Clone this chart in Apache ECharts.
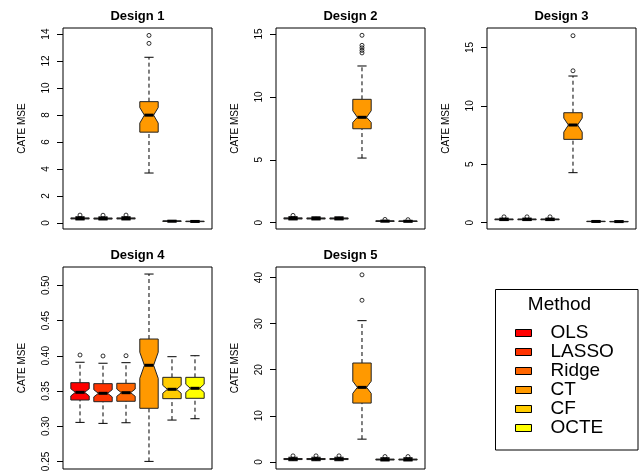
<!DOCTYPE html>
<html><head><meta charset="utf-8">
<script src="https://cdn.jsdelivr.net/npm/echarts@6/dist/echarts.min.js"></script>
<style>html,body{margin:0;padding:0;background:#fff}#c{width:643px;height:475px}</style>
</head><body><div id="c"></div>
<script>
// ---------- data ----------
const methods = ['OLS', 'LASSO', 'Ridge', 'CT', 'CF', 'OCTE'];
const designTitles = ['Design 1', 'Design 2', 'Design 3', 'Design 4', 'Design 5'];
// each row: [whiskerLow, q1, notchLow, median, notchHigh, q3, whiskerHigh]
const design1Stats = [
  [0.22, 0.30, 0.315, 0.33, 0.345, 0.37, 0.46],
  [0.22, 0.29, 0.310, 0.325, 0.340, 0.36, 0.45],
  [0.22, 0.30, 0.315, 0.33, 0.345, 0.37, 0.46],
  [3.70, 6.73, 7.40, 7.99, 8.55, 8.99, 12.28],
  [0.09, 0.115, 0.125, 0.13, 0.135, 0.145, 0.18],
  [0.07, 0.095, 0.105, 0.11, 0.115, 0.125, 0.16]
];
const design2Stats = [
  [0.22, 0.30, 0.32, 0.34, 0.36, 0.38, 0.48],
  [0.22, 0.30, 0.32, 0.335, 0.35, 0.375, 0.47],
  [0.22, 0.30, 0.32, 0.335, 0.35, 0.375, 0.47],
  [5.14, 7.47, 7.97, 8.38, 8.90, 9.81, 12.46],
  [0.08, 0.11, 0.12, 0.125, 0.13, 0.14, 0.18],
  [0.07, 0.10, 0.11, 0.115, 0.12, 0.13, 0.17]
];
const design3Stats = [
  [0.18, 0.25, 0.265, 0.28, 0.295, 0.31, 0.39],
  [0.18, 0.25, 0.265, 0.28, 0.295, 0.31, 0.39],
  [0.18, 0.25, 0.265, 0.28, 0.295, 0.31, 0.39],
  [4.28, 7.13, 7.75, 8.36, 8.95, 9.41, 12.55],
  [0.07, 0.09, 0.10, 0.105, 0.11, 0.12, 0.15],
  [0.06, 0.08, 0.09, 0.095, 0.10, 0.11, 0.14]
];
const design4Stats = [
  [0.3054, 0.3372, 0.3430, 0.3481, 0.3532, 0.3618, 0.3908],
  [0.3040, 0.3348, 0.3416, 0.3467, 0.3518, 0.3604, 0.3894],
  [0.3049, 0.3354, 0.3425, 0.3476, 0.3527, 0.3609, 0.3902],
  [0.2500, 0.3254, 0.3680, 0.3865, 0.4050, 0.4238, 0.5161],
  [0.3087, 0.3391, 0.3468, 0.3524, 0.3580, 0.3694, 0.3987],
  [0.3106, 0.3396, 0.3480, 0.3538, 0.3596, 0.3694, 0.4001]
];
const design5Stats = [
  [0.25, 0.50, 0.55, 0.60, 0.65, 0.72, 1.00],
  [0.25, 0.50, 0.55, 0.60, 0.65, 0.72, 1.00],
  [0.25, 0.50, 0.55, 0.60, 0.65, 0.72, 1.00],
  [4.93, 12.76, 14.87, 16.17, 17.50, 21.46, 30.65],
  [0.20, 0.42, 0.47, 0.50, 0.53, 0.60, 0.90],
  [0.20, 0.42, 0.47, 0.50, 0.53, 0.60, 0.90]
];
// outliers: [methodIndex, value]
const design1Outliers = [[0, 0.58], [1, 0.57], [2, 0.58], [3, 13.31], [3, 13.9]];
const design2Outliers = [[0, 0.58], [3, 13.5], [3, 13.7], [3, 13.9], [3, 14.1], [3, 14.9], [4, 0.26], [5, 0.24]];
const design3Outliers = [[0, 0.50], [1, 0.50], [2, 0.50], [3, 13.0], [3, 16.0]];
const design4Outliers = [[0, 0.4011], [1, 0.3997], [2, 0.4001]];
const design5Outliers = [[0, 1.3], [1, 1.3], [2, 1.3], [3, 35.08], [3, 40.6], [4, 1.15], [5, 1.15]];
// y axis ranges and tick labels
const yMin = [-0.45, -0.50, -0.54, 0.2392, -1.55];
const yMax = [14.45, 15.48, 16.66, 0.5261, 42.3];
const yTicks = [
  [0, 2, 4, 6, 8, 10, 12, 14],
  [0, 5, 10, 15],
  [0, 5, 10, 15],
  [0.25, 0.30, 0.35, 0.40, 0.45, 0.50],
  [0, 10, 20, 30, 40]
];
const yAxisTitle = 'CATE MSE';
const legendTitle = 'Method';

// ---------- style / layout ----------
const methodColors = ['#FF0000', '#FF3300', '#FF6600', '#FF9900', '#FFCC00', '#FFFF00'];
const FONT = 'Liberation Sans, Arial, Helvetica, sans-serif';
const grids = [
  { left: 63, top: 28, width: 149, height: 201 },
  { left: 276, top: 28, width: 149, height: 201 },
  { left: 487, top: 28, width: 149, height: 201 },
  { left: 63, top: 267, width: 149, height: 202 },
  { left: 276, top: 267, width: 149, height: 202 }
];
const allStats = [design1Stats, design2Stats, design3Stats, design4Stats, design5Stats];
const allOutliers = [design1Outliers, design2Outliers, design3Outliers, design4Outliers, design5Outliers];

const HALF = 0.4, NOTCH = 0.5, STAPLE = 0.5;

function renderBox(params, api) {
  const x = api.value(0);
  const low = api.value(1), q1 = api.value(2), nlo = api.value(3), med = api.value(4),
        nhi = api.value(5), q3 = api.value(6), high = api.value(7);
  const P = (dx, y) => api.coord([x + dx, y]);
  const color = api.visual('color');
  const a = P(0, low), b = P(0, q1), c = P(0, q3), d = P(0, high);
  const sl1 = P(-HALF * STAPLE, low), sl2 = P(HALF * STAPLE, low);
  const sh1 = P(-HALF * STAPLE, high), sh2 = P(HALF * STAPLE, high);
  const poly = [
    P(-HALF, q1), P(HALF, q1), P(HALF, nlo), P(HALF * NOTCH, med), P(HALF, nhi),
    P(HALF, q3), P(-HALF, q3), P(-HALF, nhi), P(-HALF * NOTCH, med), P(-HALF, nlo)
  ];
  const m1 = P(-HALF * NOTCH, med), m2 = P(HALF * NOTCH, med);
  const dash = { stroke: '#000', lineWidth: 1, lineDash: [4, 3] };
  const solid = { stroke: '#000', lineWidth: 1 };
  return {
    type: 'group',
    children: [
      { type: 'line', shape: { x1: a[0], y1: a[1], x2: b[0], y2: b[1] }, style: dash },
      { type: 'line', shape: { x1: c[0], y1: c[1], x2: d[0], y2: d[1] }, style: dash },
      { type: 'line', shape: { x1: sl1[0], y1: sl1[1], x2: sl2[0], y2: sl2[1] }, style: solid },
      { type: 'line', shape: { x1: sh1[0], y1: sh1[1], x2: sh2[0], y2: sh2[1] }, style: solid },
      { type: 'polygon', shape: { points: poly }, style: { fill: color, stroke: '#222', lineWidth: 1 } },
      { type: 'line', shape: { x1: m1[0], y1: m1[1], x2: m2[0], y2: m2[1] }, style: { stroke: '#000', lineWidth: 3 } }
    ]
  };
}

const option = {
  animation: false,
  backgroundColor: '#fff',
  textStyle: { fontFamily: FONT },
  title: [],
  grid: [],
  xAxis: [],
  yAxis: [],
  series: [],
  legend: {
    data: methods,
    orient: 'vertical',
    left: 515,
    top: 323.5,
    padding: 0,
    itemGap: 0,
    itemWidth: 16,
    itemHeight: 7,
    icon: 'rect',
    selectedMode: false,
    itemStyle: { borderColor: '#000', borderWidth: 1 },
    textStyle: { fontFamily: FONT, fontSize: 19, color: '#000', lineHeight: 18.7, padding: [0, 0, 0, 14] }
  },
  graphic: [
    { type: 'rect', shape: { x: 495.5, y: 289.5, width: 142.5, height: 160.5 }, style: { fill: 'none', stroke: '#000', lineWidth: 1 } }
  ]
};

grids.forEach((g, i) => {
  option.grid.push(Object.assign({ show: true, borderColor: '#000', borderWidth: 1, backgroundColor: 'transparent', containLabel: false }, g));
  option.title.push({
    text: designTitles[i],
    left: g.left + g.width / 2,
    textAlign: 'center',
    top: i < 3 ? 10 : 249,
    padding: 0,
    textStyle: { fontFamily: FONT, fontSize: 13, fontWeight: 'bold', color: '#000' }
  });
  option.xAxis.push({ gridIndex: i, type: 'value', min: 0.26, max: 6.74, show: false });
  const isD4 = i === 3;
  option.yAxis.push({
    gridIndex: i,
    type: 'value',
    min: yMin[i],
    max: yMax[i],
    name: yAxisTitle,
    nameLocation: 'middle',
    nameGap: 36,
    nameTextStyle: { fontFamily: FONT, fontSize: 10, color: '#000' },
    axisLine: { show: false },
    splitLine: { show: false },
    axisTick: { show: true, length: 6, customValues: yTicks[i], lineStyle: { color: '#000', width: 1 } },
    axisLabel: {
      customValues: yTicks[i],
      rotate: 90,
      margin: 12,
      fontFamily: FONT,
      fontSize: 10,
      color: '#000',
      formatter: v => isD4 ? Number(v).toFixed(2) : String(v)
    }
  });
  allStats[i].forEach((row, m) => {
    option.series.push({
      type: 'custom',
      name: methods[m],
      xAxisIndex: i,
      yAxisIndex: i,
      itemStyle: { color: methodColors[m] },
      encode: { x: 0, y: [1, 2, 3, 4, 5, 6, 7] },
      data: [[m + 1].concat(row)],
      renderItem: renderBox,
      silent: true
    });
  });
  option.series.push({
    type: 'scatter',
    name: 'outliers' + (i + 1),
    xAxisIndex: i,
    yAxisIndex: i,
    symbol: 'circle',
    symbolSize: 4,
    itemStyle: { color: 'rgba(0,0,0,0)', borderColor: '#000', borderWidth: 1 },
    data: allOutliers[i].map(o => [o[0] + 1, o[1]]),
    silent: true,
    z: 5
  });
});

option.title.push({
  text: legendTitle,
  left: 559.5,
  textAlign: 'center',
  top: 295,
  padding: 0,
  textStyle: { fontFamily: FONT, fontSize: 19, fontWeight: 'normal', color: '#000' }
});

const chart = echarts.init(document.getElementById('c'), null, { renderer: 'canvas' });
chart.setOption(option);
</script>
</body></html>
